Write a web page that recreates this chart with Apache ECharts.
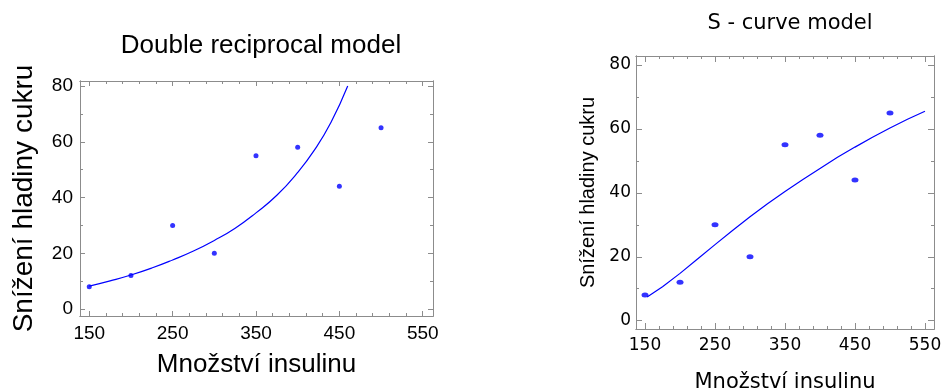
<!DOCTYPE html>
<html>
<head>
<meta charset="utf-8">
<script src="https://cdn.jsdelivr.net/npm/echarts@6/dist/echarts.min.js"></script>
<style>
html, body { margin: 0; padding: 0; background: #fff; }
#chart { width: 945px; height: 390px; }
</style>
</head>
<body>
<div id="chart"></div>
<script>
// naměřené hodnoty
var insulin = [150, 200, 250, 300, 350, 400, 450, 500];
var sugarDrop = [8, 12, 30, 20, 55, 58, 44, 65];

// křivka double reciprocal
var reciprocalX = [150, 175, 200, 225, 250, 275, 300, 325, 350, 375, 400, 420, 440, 460];
var reciprocalY = [8.2, 10.1, 12.2, 14.7, 17.6, 20.8, 24.6, 29, 34.5, 40.8, 49, 57, 67, 80];

// křivka S-curve
var sCurveX = [153, 175, 200, 225, 250, 275, 300, 325, 350, 375, 400, 425, 450, 475, 500, 525, 550];
var sCurveY = [7.4, 10.6, 14.8, 19.3, 23.8, 28.2, 32.5, 36.6, 40.4, 44.1, 47.6, 51.1, 54.3, 57.4, 60.3, 63, 65.5];

// popisky os
var xMajor = [150, 250, 350, 450, 550];
var xMinor = [170, 190, 210, 230, 270, 290, 310, 330, 370, 390, 410, 430, 470, 490, 510, 530];
var yMajor = [0, 20, 40, 60, 80];
var yMinor = [10, 30, 50, 70];

var frameColor = '#8c8c8c';
var blue = '#0000ff';

var myChart = echarts.init(document.getElementById('chart'));

// jedna strana rámečku s ticky dovnitř
function frameAxis(grid, side, min, max, ticks, len, label) {
    return {
        type: 'value',
        gridIndex: grid,
        position: side,
        min: min,
        max: max,
        axisLine: { show: true, onZero: false, lineStyle: { color: frameColor, width: 1 } },
        axisTick: { show: true, inside: true, length: len, customValues: ticks, lineStyle: { color: frameColor } },
        axisLabel: label ? label : { show: false },
        splitLine: { show: false },
        axisPointer: { show: false }
    };
}

function tickLabel(ticks, size, family, margin) {
    return { show: true, customValues: ticks, color: '#000', fontSize: size, fontFamily: family, margin: margin };
}

var leftFont = 'Liberation Sans';
var rightFont = 'DejaVu Sans';

var xAxes = [];
var yAxes = [];

// levý graf
var lx = [138.9, 562.3], ly = [-2.5, 81.8];
var ax = frameAxis(0, 'bottom', lx[0], lx[1], xMajor, 5, tickLabel(xMajor, 19, leftFont, 8));
ax.name = 'Množství insulinu';
ax.nameLocation = 'middle';
ax.nameGap = 36;
ax.nameTextStyle = { fontSize: 26, fontFamily: leftFont, color: '#000' };
xAxes.push(ax);
xAxes.push(frameAxis(0, 'bottom', lx[0], lx[1], xMinor, 3));
xAxes.push(frameAxis(0, 'top', lx[0], lx[1], xMajor, 5));
xAxes.push(frameAxis(0, 'top', lx[0], lx[1], xMinor, 3));
var ay = frameAxis(0, 'left', ly[0], ly[1], yMajor, 5, tickLabel(yMajor, 19, leftFont, 7));
ay.name = 'Snížení hladiny cukru';
ay.nameLocation = 'middle';
ay.nameGap = 42;
ay.nameTextStyle = { fontSize: 28, fontFamily: leftFont, color: '#000' };
yAxes.push(ay);
yAxes.push(frameAxis(0, 'left', ly[0], ly[1], yMinor, 3));
yAxes.push(frameAxis(0, 'right', ly[0], ly[1], yMajor, 5));
yAxes.push(frameAxis(0, 'right', ly[0], ly[1], yMinor, 3));

// pravý graf
var rx = [137.1, 562.9], ry = [-2.6, 82.8];
var bx = frameAxis(1, 'bottom', rx[0], rx[1], xMajor, 6, tickLabel(xMajor, 17, rightFont, 8));
bx.name = 'Množství insulinu';
bx.nameLocation = 'middle';
bx.nameGap = 43;
bx.nameTextStyle = { fontSize: 21, fontFamily: rightFont, color: '#000' };
xAxes.push(bx);
xAxes.push(frameAxis(1, 'bottom', rx[0], rx[1], xMinor, 3));
xAxes.push(frameAxis(1, 'top', rx[0], rx[1], xMajor, 6));
xAxes.push(frameAxis(1, 'top', rx[0], rx[1], xMinor, 3));
var by = frameAxis(1, 'left', ry[0], ry[1], yMajor, 6, tickLabel(yMajor, 17, rightFont, 5));
by.name = 'Snížení hladiny cukru';
by.nameLocation = 'middle';
by.nameGap = 38;
by.nameTextStyle = { fontSize: 20, fontFamily: leftFont, color: '#000' };
yAxes.push(by);
yAxes.push(frameAxis(1, 'left', ry[0], ry[1], yMinor, 3));
yAxes.push(frameAxis(1, 'right', ry[0], ry[1], yMajor, 6));
yAxes.push(frameAxis(1, 'right', ry[0], ry[1], yMinor, 3));

function pairs(xs, ys) {
    var out = [];
    for (var i = 0; i < xs.length; i++) {
        out.push([xs[i], ys[i]]);
    }
    return out;
}

var option = {
    backgroundColor: '#fff',
    animation: false,
    title: [
        {
            text: 'Double reciprocal model',
            left: 256, top: 28, textAlign: 'center',
            textStyle: { fontSize: 26, fontWeight: 'normal', fontFamily: leftFont, color: '#000' }
        },
        {
            text: 'S - curve model',
            left: 785, top: 8, textAlign: 'center',
            textStyle: { fontSize: 21, fontWeight: 'normal', fontFamily: rightFont, color: '#000' }
        }
    ],
    grid: [
        { left: 80, top: 81, width: 353, height: 235, outerBoundsMode: 'none' },
        { left: 636, top: 56, width: 298, height: 273, outerBoundsMode: 'none' }
    ],
    xAxis: xAxes,
    yAxis: yAxes,
    series: [
        {
            name: 'Double reciprocal',
            type: 'line',
            xAxisIndex: 0, yAxisIndex: 0,
            showSymbol: false,
            smooth: true,
            lineStyle: { color: blue, width: 1.2 },
            data: pairs(reciprocalX, reciprocalY)
        },
        {
            name: 'data',
            type: 'scatter',
            xAxisIndex: 0, yAxisIndex: 0,
            symbolSize: 5,
            itemStyle: { color: blue },
            data: pairs(insulin, sugarDrop)
        },
        {
            name: 'S-curve',
            type: 'line',
            xAxisIndex: 4, yAxisIndex: 4,
            showSymbol: false,
            smooth: false,
            lineStyle: { color: blue, width: 1.2 },
            data: pairs(sCurveX, sCurveY)
        },
        {
            name: 'data',
            type: 'scatter',
            xAxisIndex: 4, yAxisIndex: 4,
            symbolSize: [7, 5],
            itemStyle: { color: blue },
            data: pairs(insulin, sugarDrop)
        }
    ]
};
myChart.setOption(option);
</script>
</body>
</html>
